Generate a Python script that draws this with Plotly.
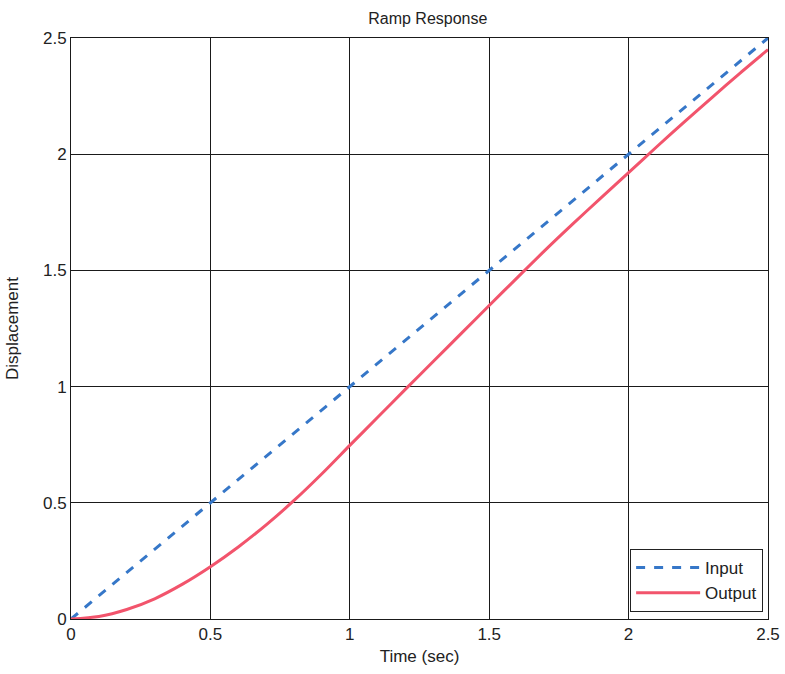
import plotly.graph_objects as go

time_in = [0, 0.5, 1.0, 1.5, 2.0, 2.5]
input_vals = [0, 0.5, 1.0, 1.5, 2.0, 2.5]

time_out = [0, 0.1, 0.2, 0.3, 0.4, 0.5, 0.6, 0.7, 0.8, 0.9, 1.0, 1.1, 1.2, 1.3,
            1.4, 1.5, 1.6, 1.7, 1.8, 1.9, 2.0, 2.1, 2.2, 2.3, 2.4, 2.5]
output_vals = [0, 0.011, 0.041, 0.087, 0.15, 0.225, 0.31, 0.405, 0.51, 0.625, 0.747,
               0.868, 0.989, 1.109, 1.229, 1.349, 1.468, 1.586, 1.70, 1.811, 1.921, 2.031,
               2.139, 2.245, 2.349, 2.45]

tick_vals = [0, 0.5, 1, 1.5, 2, 2.5]
tick_text = ["0", "0.5", "1", "1.5", "2", "2.5"]

fig = go.Figure()
fig.add_trace(go.Scatter(x=time_in, y=input_vals, mode="lines", name="Input",
                         line=dict(color="#3677c8", width=3, dash="dash")))
fig.add_trace(go.Scatter(x=time_out, y=output_vals, mode="lines", name="Output",
                         line=dict(color="#f2546c", width=3, shape="spline", smoothing=0.8)))

axis_common = dict(
    range=[0, 2.5], tickvals=tick_vals, ticktext=tick_text,
    showgrid=True, gridcolor="#1a1a1a", gridwidth=1,
    showline=True, linecolor="#1a1a1a", linewidth=1, mirror=True,
    ticks="inside", ticklen=4, tickcolor="#1a1a1a",
    zeroline=False, tickfont=dict(size=17, color="#222222"),
    automargin=False,
)

fig.update_layout(
    width=785, height=674,
    margin=dict(l=71, r=17, t=38, b=55),
    paper_bgcolor="white", plot_bgcolor="white",
    font=dict(family="Liberation Sans, Arial, sans-serif", color="#222222"),
    title=dict(text="Ramp Response", x=0.545, xanchor="center", y=0.973, yanchor="middle",
               font=dict(size=16, color="#222222")),
    xaxis=dict(**axis_common, title=dict(text="Time (sec)", font=dict(size=17), standoff=6)),
    yaxis=dict(**axis_common, title=dict(text="Displacement", font=dict(size=17), standoff=20)),
    legend=dict(x=0.993, y=0.012, xanchor="right", yanchor="bottom",
                bgcolor="white", bordercolor="#222222", borderwidth=1,
                itemwidth=64,
                font=dict(size=17, color="#222222")),
    showlegend=True,
)

fig.write_html("out.html",
               config={"displayModeBar": False},
               post_script="document.body.style.margin='0';document.body.style.overflow='hidden';")
